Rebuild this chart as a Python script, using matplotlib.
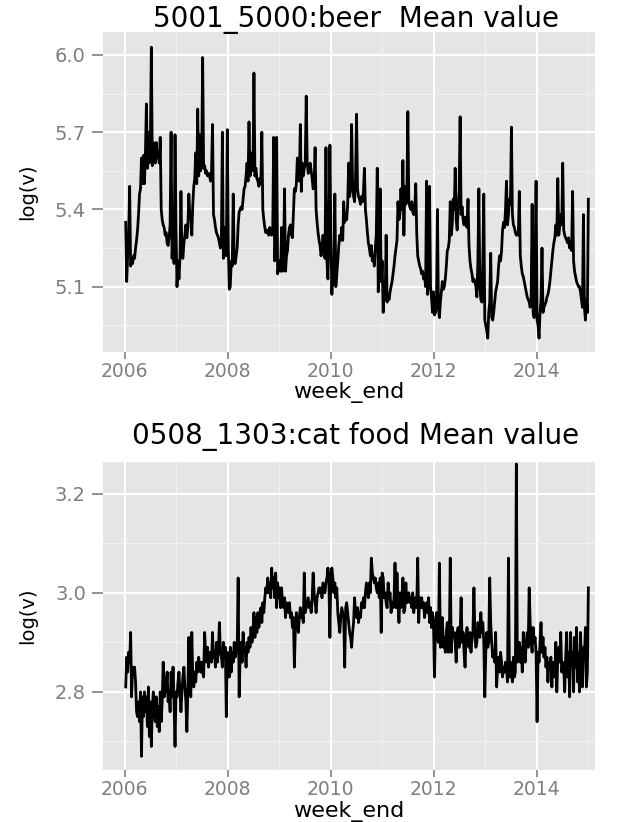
import numpy as np
import pandas as pd
import matplotlib
matplotlib.use('Agg')
import matplotlib.pyplot as plt
import matplotlib.dates as mdates

# weekly log(v) values, one list per year
beer_2006 = [5.35, 5.12, 5.22, 5.30, 5.49, 5.18, 5.20, 5.19, 5.22, 5.21, 5.25, 5.28, 5.32,
             5.38, 5.46, 5.48, 5.60, 5.50, 5.61, 5.50, 5.62, 5.81, 5.56, 5.70, 5.58, 5.66,
             6.03, 5.57, 5.66, 5.60, 5.58, 5.66, 5.60, 5.62, 5.58, 5.68, 5.40, 5.36, 5.34,
             5.33, 5.30, 5.31, 5.27, 5.26, 5.29, 5.34, 5.70, 5.21, 5.30, 5.19, 5.69, 5.32]
beer_2007 = [5.10, 5.20, 5.13, 5.21, 5.47, 5.22, 5.21, 5.27, 5.30, 5.34, 5.29, 5.33, 5.46,
             5.38, 5.37, 5.30, 5.42, 5.49, 5.52, 5.62, 5.50, 5.79, 5.53, 5.69, 5.55, 5.60,
             5.99, 5.56, 5.57, 5.54, 5.55, 5.53, 5.54, 5.53, 5.51, 5.55, 5.73, 5.38, 5.36,
             5.33, 5.31, 5.30, 5.29, 5.27, 5.25, 5.28, 5.70, 5.21, 5.30, 5.33, 5.22, 5.71]
beer_2008 = [5.25, 5.09, 5.10, 5.20, 5.18, 5.46, 5.20, 5.19, 5.22, 5.25, 5.34, 5.39, 5.40,
             5.41, 5.40, 5.44, 5.48, 5.49, 5.53, 5.58, 5.51, 5.74, 5.53, 5.56, 5.62, 5.55,
             5.93, 5.53, 5.56, 5.52, 5.51, 5.49, 5.52, 5.50, 5.70, 5.40, 5.36, 5.33, 5.31,
             5.32, 5.31, 5.30, 5.33, 5.31, 5.30, 5.31, 5.68, 5.20, 5.28, 5.68, 5.15, 5.17, 5.20]
beer_2009 = [5.16, 5.33, 5.16, 5.20, 5.48, 5.16, 5.22, 5.24, 5.30, 5.33, 5.34, 5.30, 5.29,
             5.38, 5.48, 5.47, 5.50, 5.60, 5.52, 5.51, 5.73, 5.47, 5.58, 5.53, 5.56, 5.58,
             5.84, 5.58, 5.54, 5.55, 5.58, 5.55, 5.52, 5.48, 5.50, 5.64, 5.40, 5.35, 5.31,
             5.28, 5.26, 5.22, 5.25, 5.30, 5.25, 5.21, 5.64, 5.20, 5.13, 5.30, 5.65, 5.30]
beer_2010 = [5.07, 5.20, 5.11, 5.46, 5.10, 5.15, 5.20, 5.26, 5.30, 5.28, 5.33, 5.28, 5.43,
             5.35, 5.38, 5.36, 5.42, 5.58, 5.45, 5.48, 5.73, 5.50, 5.45, 5.43, 5.52, 5.77,
             5.48, 5.45, 5.44, 5.42, 5.45, 5.43, 5.47, 5.56, 5.40, 5.36, 5.31, 5.27, 5.25,
             5.22, 5.26, 5.20, 5.22, 5.18, 5.25, 5.30, 5.56, 5.08, 5.25, 5.48, 5.12, 5.20]
beer_2011 = [5.00, 5.08, 5.05, 5.30, 5.04, 5.06, 5.05, 5.08, 5.10, 5.12, 5.15, 5.18, 5.22,
             5.25, 5.28, 5.43, 5.36, 5.38, 5.48, 5.40, 5.59, 5.30, 5.49, 5.42, 5.45, 5.78,
             5.43, 5.41, 5.40, 5.43, 5.39, 5.38, 5.40, 5.50, 5.31, 5.22, 5.20, 5.18, 5.17,
             5.15, 5.16, 5.13, 5.14, 5.10, 5.51, 5.07, 5.15, 5.49, 5.10, 5.06, 5.00, 5.08]
beer_2012 = [4.99, 5.00, 5.02, 5.40, 5.02, 4.98, 5.04, 5.08, 5.12, 5.09, 5.10, 5.13, 5.18,
             5.24, 5.25, 5.28, 5.43, 5.30, 5.34, 5.44, 5.40, 5.56, 5.36, 5.32, 5.40, 5.47,
             5.76, 5.38, 5.41, 5.36, 5.34, 5.37, 5.35, 5.33, 5.44, 5.26, 5.20, 5.17, 5.15,
             5.12, 5.13, 5.12, 5.10, 5.06, 5.20, 5.48, 5.10, 5.05, 5.04, 5.20, 5.46, 4.97, 4.95]
beer_2013 = [4.93, 4.90, 5.00, 5.04, 5.23, 4.98, 4.97, 5.00, 5.04, 5.08, 5.10, 5.12, 5.18,
             5.22, 5.20, 5.24, 5.32, 5.35, 5.33, 5.40, 5.51, 5.34, 5.38, 5.44, 5.42, 5.72,
             5.38, 5.34, 5.33, 5.31, 5.30, 5.31, 5.30, 5.47, 5.22, 5.18, 5.15, 5.14, 5.12,
             5.10, 5.08, 5.06, 5.05, 5.04, 5.02, 5.06, 5.42, 5.00, 4.98, 5.20, 5.51, 4.97]
beer_2014 = [4.95, 4.90, 5.00, 5.05, 5.25, 5.00, 5.02, 5.03, 5.04, 5.06, 5.07, 5.09, 5.12,
             5.16, 5.20, 5.24, 5.27, 5.29, 5.34, 5.30, 5.52, 5.30, 5.34, 5.38, 5.34, 5.58,
             5.32, 5.30, 5.29, 5.28, 5.27, 5.29, 5.25, 5.26, 5.24, 5.47, 5.20, 5.16, 5.14,
             5.12, 5.11, 5.10, 5.10, 5.08, 5.05, 5.02, 5.38, 5.02, 4.97, 5.05, 5.00, 5.44]

cat_2006 = [2.81, 2.87, 2.84, 2.88, 2.86, 2.92, 2.79, 2.85, 2.84, 2.85, 2.82, 2.76, 2.75,
            2.78, 2.74, 2.80, 2.67, 2.79, 2.75, 2.80, 2.76, 2.79, 2.73, 2.81, 2.71, 2.78,
            2.69, 2.77, 2.80, 2.76, 2.74, 2.79, 2.73, 2.77, 2.72, 2.80, 2.74, 2.78, 2.86,
            2.79, 2.83, 2.80, 2.84, 2.78, 2.80, 2.76, 2.84, 2.79, 2.85, 2.78, 2.69, 2.80]
cat_2007 = [2.79, 2.82, 2.84, 2.80, 2.76, 2.80, 2.83, 2.85, 2.81, 2.78, 2.72, 2.80, 2.91,
            2.82, 2.79, 2.92, 2.83, 2.81, 2.84, 2.82, 2.86, 2.84, 2.87, 2.85, 2.84, 2.86,
            2.84, 2.83, 2.92, 2.88, 2.86, 2.89, 2.85, 2.88, 2.87, 2.86, 2.92, 2.87, 2.88,
            2.85, 2.90, 2.86, 2.89, 2.94, 2.88, 2.87, 2.85, 2.90, 2.87, 2.89, 2.75, 2.88]
cat_2008 = [2.86, 2.83, 2.89, 2.84, 2.88, 2.86, 2.90, 2.87, 2.88, 2.89, 3.03, 2.79, 2.87,
            2.90, 2.86, 2.92, 2.88, 2.89, 2.85, 2.90, 2.88, 2.91, 2.89, 2.93, 2.90, 2.92,
            2.96, 2.91, 2.95, 2.92, 2.96, 2.93, 2.95, 2.97, 2.94, 2.98, 2.96, 2.99, 3.01,
            3.00, 3.03, 3.00, 3.02, 2.99, 3.05, 3.01, 3.03, 2.99, 3.04, 2.97, 3.02, 2.99, 3.01]
cat_2009 = [2.97, 3.01, 2.98, 2.97, 2.99, 2.95, 2.98, 2.97, 2.96, 2.98, 2.95, 2.96, 2.93,
            2.95, 2.85, 2.93, 2.96, 2.94, 2.92, 2.95, 2.97, 2.95, 2.96, 2.94, 3.04, 2.96,
            2.97, 2.98, 2.99, 2.97, 2.98, 2.96, 2.99, 3.04, 3.00, 2.98, 2.96, 2.99, 3.00,
            3.01, 3.00, 3.01, 2.99, 3.02, 3.01, 3.00, 3.02, 3.03, 3.05, 3.02, 2.91, 3.04]
cat_2010 = [3.05, 3.03, 3.00, 3.02, 2.99, 3.01, 2.96, 2.94, 2.92, 2.95, 2.97, 2.96, 2.95,
            2.85, 2.97, 2.98, 2.96, 2.94, 2.92, 2.91, 2.89, 2.92, 2.94, 2.99, 2.96, 2.95,
            2.97, 2.94, 2.96, 2.95, 2.98, 2.97, 2.99, 2.97, 3.00, 3.02, 3.01, 2.99, 3.02,
            3.00, 3.07, 3.04, 3.03, 3.02, 3.03, 3.01, 3.00, 3.02, 2.99, 3.03, 2.92, 3.04]
cat_2011 = [3.03, 2.99, 3.00, 2.98, 2.97, 3.02, 2.99, 3.00, 2.96, 2.98, 2.97, 2.99, 3.06,
            2.97, 3.04, 2.98, 2.94, 3.00, 2.97, 2.99, 3.03, 2.96, 2.97, 3.02, 2.98, 2.99,
            3.00, 2.98, 2.99, 2.97, 3.00, 2.96, 2.98, 2.99, 2.97, 3.07, 2.94, 2.99, 2.97,
            2.99, 2.97, 2.98, 2.95, 2.97, 2.98, 2.96, 2.99, 2.94, 2.97, 2.93, 2.96, 2.94]
cat_2012 = [2.83, 2.93, 2.96, 2.91, 2.90, 3.06, 2.89, 2.93, 2.95, 2.89, 2.91, 2.88, 2.92,
            2.94, 2.88, 2.90, 3.07, 2.88, 2.93, 2.91, 2.92, 2.90, 2.86, 2.92, 2.93, 2.89,
            2.92, 2.99, 2.90, 2.92, 2.88, 2.85, 2.91, 2.93, 2.90, 2.89, 2.92, 2.88, 2.91,
            2.92, 3.01, 2.91, 2.89, 2.90, 2.94, 2.93, 2.91, 2.96, 2.92, 2.94, 2.90, 2.79, 2.88]
cat_2013 = [2.92, 2.89, 2.90, 3.03, 2.94, 2.90, 2.87, 2.88, 2.86, 2.92, 2.81, 2.85, 2.87,
            2.84, 2.88, 2.86, 2.83, 2.85, 2.84, 2.86, 2.85, 2.82, 3.07, 2.83, 2.86, 2.84,
            2.82, 2.87, 2.83, 2.84, 3.26, 2.86, 2.87, 2.90, 2.86, 2.89, 2.84, 2.92, 2.88,
            2.86, 2.90, 2.92, 2.89, 3.01, 2.94, 2.90, 2.88, 2.93, 2.90, 2.91, 2.88, 2.74]
cat_2014 = [2.88, 2.86, 2.90, 2.94, 2.88, 2.91, 2.87, 2.89, 2.85, 2.87, 2.82, 2.86, 2.85,
            2.87, 2.81, 2.86, 2.84, 2.83, 2.90, 2.80, 2.87, 2.89, 2.86, 2.92, 2.84, 2.86,
            2.85, 2.80, 2.87, 2.92, 2.83, 2.88, 2.79, 2.92, 2.86, 2.88, 2.80, 2.91, 2.85,
            2.93, 2.82, 2.88, 2.80, 2.92, 2.86, 2.81, 2.89, 2.87, 2.93, 2.81, 2.84, 3.01]

beer = beer_2006 + beer_2007 + beer_2008 + beer_2009 + beer_2010 + beer_2011 + beer_2012 + beer_2013 + beer_2014
cat = cat_2006 + cat_2007 + cat_2008 + cat_2009 + cat_2010 + cat_2011 + cat_2012 + cat_2013 + cat_2014

panels = [
    ('5001_5000:beer  Mean value', beer, [5.1, 5.4, 5.7, 6.0], [4.95, 5.25, 5.55, 5.85], (4.847, 6.089)),
    ('0508_1303:cat food Mean value', cat, [2.8, 3.0, 3.2], [2.7, 2.9, 3.1], (2.642, 3.264)),
]

fig = plt.figure(figsize=(6.18, 8.22), dpi=100)
boxes = [[0.166, 0.572, 0.797, 0.389], [0.166, 0.063, 0.797, 0.375]]
title_y = [0.967, 0.460]

for (title, vals, yt, ymt, ylim), box, ty in zip(panels, boxes, title_y):
    ax = fig.add_axes(box)
    weeks = pd.date_range('2006-01-07', periods=len(vals), freq='7D')
    ax.set_facecolor('#E5E5E5')
    ax.plot(weeks, vals, color='black', lw=2.0)
    ax.set_xlim(pd.Timestamp('2005-07-27'), pd.Timestamp('2015-02-20'))
    ax.set_ylim(*ylim)
    ax.xaxis.set_major_locator(mdates.YearLocator(2))
    ax.xaxis.set_minor_locator(mdates.YearLocator(1))
    ax.xaxis.set_major_formatter(mdates.DateFormatter('%Y'))
    ax.set_yticks(yt)
    ax.set_yticks(ymt, minor=True)
    ax.set_yticklabels(['%.1f' % v for v in yt])
    ax.grid(which='major', color='white', lw=1.5)
    ax.grid(which='minor', color='#F2F2F2', lw=0.8)
    ax.set_axisbelow(True)
    for s in ax.spines.values():
        s.set_visible(False)
    ax.tick_params(which='major', axis='y', length=8, width=1.2, color='#7F7F7F',
                   labelcolor='#7F7F7F', labelsize=14, pad=4)
    ax.tick_params(which='major', axis='x', length=5, width=1.2, color='#7F7F7F',
                   labelcolor='#7F7F7F', labelsize=13.5, pad=2)
    ax.tick_params(which='minor', length=0)
    ax.set_xlabel('week_end', fontsize=16, va='center')
    ax.xaxis.set_label_coords(0.5, -41 / (box[3] * 822))
    ax.set_ylabel('log(v)', fontsize=14)
    ax.yaxis.set_label_coords(-0.133, 0.5)
    fig.text(0.576, ty, title, ha='center', va='baseline', fontsize=20)

fig.savefig('out.png', dpi=100)
